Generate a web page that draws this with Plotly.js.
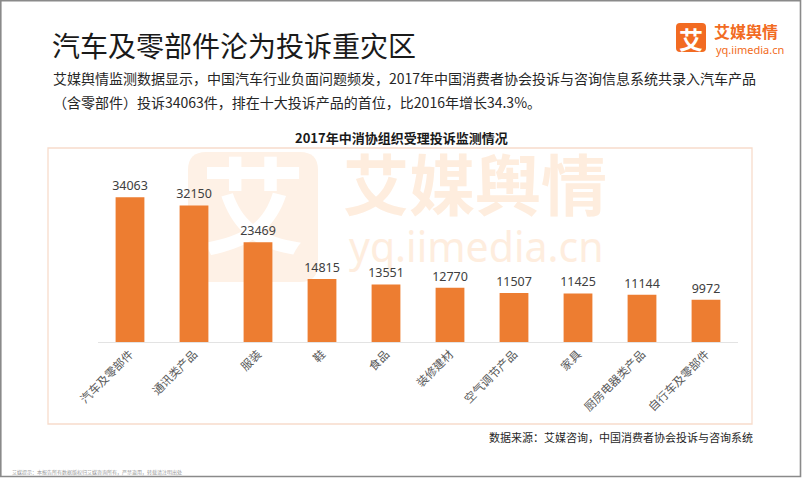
<!DOCTYPE html>
<html>
<head>
<meta charset="utf-8">
<script src="https://cdn.plot.ly/plotly-3.0.1.min.js"></script>
<style>
html,body{margin:0;padding:0;background:#ffffff;}
#chart{width:802px;height:479px;}
</style>
</head>
<body>
<div id="chart"></div>
<script>
// ---- data ----
const categories = ['汽车及零部件','通讯类产品','服装','鞋','食品','装修建材','空气调节产品','家具','厨房电器类产品','自行车及零部件'];
const complaints = [34063, 32150, 23469, 14815, 13551, 12770, 11507, 11425, 11144, 9972];

const mainTitle = '汽车及零部件沦为投诉重灾区';
const introLine1 = '艾媒舆情监测数据显示，中国汽车行业负面问题频发，2017年中国消费者协会投诉与咨询信息系统共录入汽车产品';
const introLine2 = '（含零部件）投诉34063件，排在十大投诉产品的首位，比2016年增长34.3%。';
const chartTitle = '2017年中消协组织受理投诉监测情况';
const sourceText = '数据来源：艾媒咨询，中国消费者协会投诉与咨询系统';
const footerText = '艾媒提示：本报告所有数据版权归艾媒咨询所有，严禁盗用，转载请注明出处';
const brandName = '艾媒舆情';
const brandUrl = 'yq.iimedia.cn';
const brandMark = '艾';

// ---- layout helpers (pixel -> paper) ----
const L = 98, R = 64, T = 150, B = 137, W = 802, H = 479;
const PW = W - L - R, PH = H - T - B;
const px = x => (x - L) / PW;
const py = y => (H - B - y) / PH;

const CJK = '"Noto Sans CJK SC", "Noto Sans", sans-serif';
const ORANGE = '#ED7D31';
const LOGO = '#F26B22';
const WM = '#FEEDDE';

function rrPath(x0, y0, x1, y1, r) {
  const P = (x, y) => px(x) + ',' + py(y);
  return 'M' + P(x0 + r, y0) + ' L' + P(x1 - r, y0) + ' Q' + P(x1, y0) + ' ' + P(x1, y0 + r) +
    ' L' + P(x1, y1 - r) + ' Q' + P(x1, y1) + ' ' + P(x1 - r, y1) +
    ' L' + P(x0 + r, y1) + ' Q' + P(x0, y1) + ' ' + P(x0, y1 - r) +
    ' L' + P(x0, y0 + r) + ' Q' + P(x0, y0) + ' ' + P(x0 + r, y0) + ' Z';
}

function txt(text, x, y, size, color, xanchor, extra) {
  return Object.assign({
    text: text, xref: 'paper', yref: 'paper', x: px(x), y: py(y),
    xanchor: xanchor || 'left', yanchor: 'middle', showarrow: false,
    font: {family: CJK, size: size, color: color}
  }, extra || {});
}

const trace = {
  type: 'bar',
  x: categories,
  y: complaints,
  marker: {color: ORANGE},
  width: 0.45,
  text: complaints.map(String),
  textposition: 'outside',
  constraintext: 'none',
  textfont: {family: '"Noto Sans", sans-serif', size: 12.5, color: '#404040'},
  cliponaxis: false,
  hoverinfo: 'x+y'
};

const shapes = [
  // outer grey border
  {type: 'rect', xref: 'paper', yref: 'paper', x0: px(0.8), x1: px(800.5), y0: py(0.8), y1: py(476.5),
   line: {color: '#8a8a8a', width: 1.6}, layer: 'below'},
  // chart frame
  {type: 'rect', xref: 'paper', yref: 'paper', x0: px(48), x1: px(752), y0: py(148), y1: py(424),
   line: {color: '#F7DCCB', width: 1.3}, layer: 'below'},
  // watermark rounded square
  {type: 'path', xref: 'paper', yref: 'paper', path: rrPath(188, 152, 318, 282, 18),
   fillcolor: '#FEF1E6', line: {width: 0}, layer: 'below'},
  // watermark mark glyph
  {type: 'rect', xref: 'paper', yref: 'paper', x0: px(188), x1: px(318), y0: py(152), y1: py(282),
   line: {width: 0}, fillcolor: 'rgba(0,0,0,0)', layer: 'below',
   label: {text: brandMark, textposition: 'middle center', font: {family: CJK, size: 104, color: '#ffffff', weight: 'bold'}}},
  // watermark brand name
  {type: 'rect', xref: 'paper', yref: 'paper', x0: px(340), x1: px(700), y0: py(160), y1: py(224),
   line: {width: 0}, fillcolor: 'rgba(0,0,0,0)', layer: 'below',
   label: {text: brandName, textposition: 'middle left', padding: 0, font: {family: CJK, size: 66, color: WM, weight: 'bold'}}},
  // watermark url
  {type: 'rect', xref: 'paper', yref: 'paper', x0: px(346), x1: px(700), y0: py(226), y1: py(272),
   line: {width: 0}, fillcolor: 'rgba(0,0,0,0)', layer: 'below',
   label: {text: brandUrl, textposition: 'middle left', padding: 0, font: {family: '"Noto Sans", sans-serif', size: 41, color: WM}}},
  // logo square
  {type: 'path', xref: 'paper', yref: 'paper', path: rrPath(676, 23, 706, 52, 4),
   fillcolor: LOGO, line: {width: 0}, layer: 'above'}
];

const annotations = [
  txt(mainTitle, 50, 45, 28, '#1a1a1a'),
  txt(introLine1, 51, 78, 14, '#262626'),
  txt(introLine2, 51, 102, 14, '#262626'),
  txt('<b>' + chartTitle + '</b>', 401, 137, 13, '#1a1a1a', 'center'),
  txt(sourceText, 755, 437, 11, '#262626', 'right'),
  txt(footerText, 10, 472, 5, '#9a9a9a'),
  txt('<b>' + brandMark + '</b>', 691, 38, 24, '#ffffff', 'center'),
  txt('<b>' + brandName + '</b>', 713, 31, 16, LOGO, 'left', {borderpad: 0}),
  txt(brandUrl, 715, 49.5, 11, LOGO, 'left', {borderpad: 0, font: {family: '"Noto Sans", sans-serif', size: 11, color: LOGO}})
];

const layout = {
  width: W, height: H,
  margin: {l: L, r: R, t: T, b: B, pad: 0},
  paper_bgcolor: '#ffffff',
  plot_bgcolor: 'rgba(0,0,0,0)',
  showlegend: false,
  font: {family: CJK},
  xaxis: {
    type: 'category',
    showline: true, linecolor: '#e3e3e3', linewidth: 1,
    ticks: '', tickangle: -45,
    tickfont: {family: CJK, size: 11.5, color: '#595959'},
    showgrid: false, zeroline: false, fixedrange: true
  },
  yaxis: {
    range: [0, 45200], visible: false, showgrid: false, zeroline: false, fixedrange: true
  },
  shapes: shapes,
  annotations: annotations
};

Plotly.newPlot('chart', [trace], layout, {displayModeBar: false, staticPlot: true});
</script>
</body>
</html>
